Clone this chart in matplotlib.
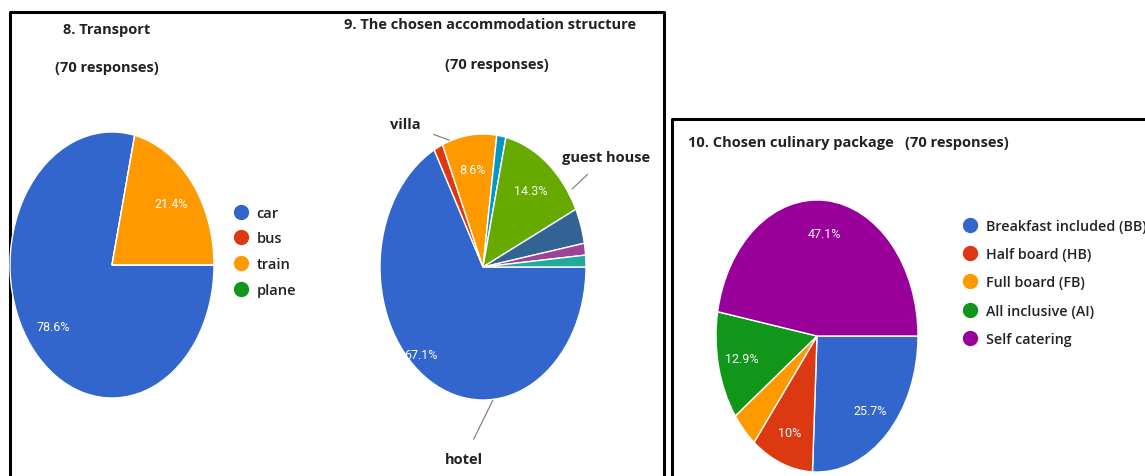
import matplotlib.pyplot as plt
from matplotlib.lines import Line2D

W, H = 1145, 477

# Google Forms palette
blue, red, orange, green = '#3366CC', '#DC3912', '#FF9900', '#109618'
purple, cyan, lime, dblue = '#990099', '#0099C6', '#66AA00', '#316395'
violet, teal = '#994499', '#22AA99'

# 8. Transport
transport_labels = ['car', 'bus', 'train', 'plane']
transport_counts = [55, 0, 15, 0]
transport_colors = [blue, red, orange, green]

# 9. Accommodation (clockwise from 3 o'clock)
accom_labels = ['hotel', 'other 1', 'villa', 'other 2', 'guest house',
                'other 3', 'other 4', 'other 5']
accom_counts = [47, 1, 6, 1, 10, 3, 1, 1]
accom_colors = [blue, red, orange, cyan, lime, dblue, violet, teal]

# 10. Culinary package
food_labels = ['Breakfast included (BB)', 'Half board (HB)', 'Full board (FB)',
               'All inclusive (AI)', 'Self catering']
food_counts = [18, 7, 3, 9, 33]
food_colors = [blue, red, orange, green, purple]

plt.rcParams['font.family'] = ['Open Sans', 'DejaVu Sans']

fig = plt.figure(figsize=(W / 100, H / 100), dpi=100)
bg = fig.add_axes([0, 0, 1, 1])
bg.set_xlim(0, W)
bg.set_ylim(H, 0)
bg.axis('off')


def pct_fmt(p):
    if p < 5:
        return ''
    return f'{p:.1f}'.rstrip('0').rstrip('.') + '%'


def pie_axes(cx, cy, rx, ry):
    # axes box in pixels -> figure fraction
    return fig.add_axes([(cx - rx) / W, 1 - (cy + ry) / H, 2 * rx / W, 2 * ry / H])


def draw_pie(ax, counts, colors, pctdist=0.74):
    wedges, _, autotexts = ax.pie(counts, colors=colors, startangle=0,
                                  counterclock=False, autopct=pct_fmt,
                                  pctdistance=pctdist,
                                  wedgeprops=dict(edgecolor='white', linewidth=1),
                                  textprops=dict(color='white', fontsize=9,
                                                 family='Roboto'))
    ax.set_aspect('auto')
    ax.set_xlim(-1, 1)
    ax.set_ylim(-1, 1)
    ax.axis('off')
    return wedges, autotexts


def add_legend(labels, colors, x, y, size, spacing):
    handles = [Line2D([], [], marker='o', ls='none', ms=10, color=c) for c in colors]
    fig.legend(handles, labels, loc='upper left', bbox_to_anchor=(x / W, 1 - y / H),
               frameon=False, prop=dict(size=size, weight='semibold'),
               labelspacing=spacing, handletextpad=0.5, handlelength=1.2,
               borderaxespad=0, labelcolor='#222222')


# frames
bg.plot([10, 10, 664, 664], [H, 13, 13, H], color='black', lw=2.2, clip_on=False)
bg.plot([672, 672, W], [H, 120, 120], color='black', lw=2.2, clip_on=False)

title_kw = dict(fontsize=10.5, fontweight='bold', color='#222222', va='center')

# ---- panel 1
bg.text(107, 30, '8. Transport', ha='center', **title_kw)
bg.text(107, 68, '(70 responses)', ha='center', **title_kw)
ax1 = pie_axes(112, 266, 102, 133)
draw_pie(ax1, transport_counts, transport_colors)
add_legend(transport_labels, transport_colors, 226, 201, 10.5, 0.8)

# ---- panel 2
bg.text(490, 25, '9. The chosen accommodation structure', ha='center', **title_kw)
bg.text(497, 65, '(70 responses)', ha='center', **title_kw)
ax2 = pie_axes(483, 268, 103, 133)
w2, t2 = draw_pie(ax2, accom_counts, accom_colors)
t2[0].set_position((-0.6, -0.66))

lab_kw = dict(fontsize=10.5, fontweight='bold', color='#222222', ha='center', va='center',
              arrowprops=dict(arrowstyle='-', color='#777777', lw=0.8, shrinkA=8))
bg.annotate('villa', xy=(468, 148), xytext=(405, 125), **lab_kw)
bg.annotate('guest house', xy=(570, 192), xytext=(606, 158), **lab_kw)
bg.annotate('hotel', xy=(512, 362), xytext=(464, 460), **lab_kw)

# ---- panel 3
bg.text(688, 143, '10. Chosen culinary package   (70 responses)', ha='left', **title_kw)
ax3 = pie_axes(817, 337, 101, 136)
draw_pie(ax3, food_counts, food_colors, pctdist=0.76)
# the reference image is cropped through this legend's first label
add_legend(food_labels, food_colors, 956, 214, 10.3, 1.0)

fig.savefig('out.png', dpi=100)
